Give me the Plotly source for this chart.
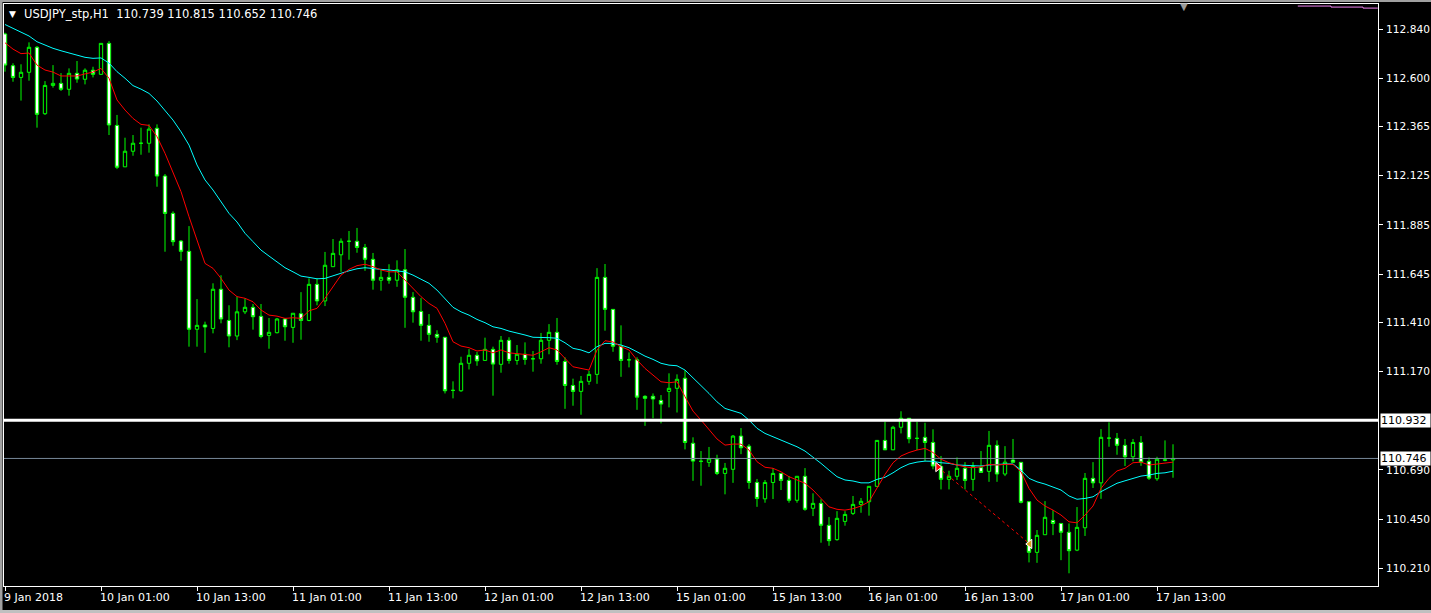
import plotly.graph_objects as go

# ---------------- data ----------------
bars = list(range(147))  # hourly bar index, 9 Jan 13:00 ... 17 Jan 15:00

opens = [
    112.816, 112.661, 112.604, 112.629, 112.751, 112.427, 112.565, 112.575, 112.546, 112.624,
    112.595, 112.639, 112.619, 112.770, 112.370, 112.168, 112.244, 112.283, 112.283, 112.356,
    112.123, 111.941, 111.806, 111.756, 111.376, 111.397, 111.380, 111.571, 111.419, 111.343,
    111.461, 111.483, 111.439, 111.346, 111.359, 111.426, 111.385, 111.452, 111.419, 111.595,
    111.514, 111.681, 111.739, 111.805, 111.805, 111.775, 111.717, 111.615, 111.629, 111.615,
    111.666, 111.532, 111.463, 111.395, 111.351, 111.337, 111.078, 111.076, 111.210, 111.249,
    111.224, 111.278, 111.205, 111.322, 111.224, 111.254, 111.232, 111.232, 111.322, 111.361,
    111.219, 111.102, 111.073, 111.122, 111.156, 111.629, 111.473, 111.293, 111.227, 111.227,
    111.049, 111.049, 111.029, 111.073, 111.088, 111.137, 110.820, 110.732, 110.727, 110.743,
    110.673, 110.693, 110.855, 110.806, 110.629, 110.549, 110.629, 110.673, 110.639, 110.542,
    110.659, 110.503, 110.527, 110.420, 110.350, 110.439, 110.478, 110.522, 110.535, 110.610,
    110.834, 110.788, 110.898, 110.942, 110.844, 110.849, 110.824, 110.707, 110.644, 110.659,
    110.698, 110.644, 110.701, 110.683, 110.810, 110.670, 110.738, 110.727, 110.535, 110.288,
    110.374, 110.444, 110.429, 110.386, 110.299, 110.408, 110.649, 110.627, 110.845, 110.844,
    110.810, 110.754, 110.824, 110.732, 110.647, 110.737, 110.739]

highs = [
    112.822, 112.673, 112.668, 112.775, 112.757, 112.586, 112.664, 112.625, 112.648, 112.684,
    112.648, 112.656, 112.770, 112.781, 112.421, 112.310, 112.323, 112.359, 112.375, 112.375,
    112.133, 111.951, 111.811, 111.879, 111.523, 111.413, 111.600, 111.639, 111.493, 111.535,
    111.527, 111.499, 111.499, 111.431, 111.431, 111.431, 111.454, 111.557, 111.624, 111.624,
    111.753, 111.816, 111.819, 111.855, 111.870, 111.792, 111.748, 111.668, 111.693, 111.712,
    111.767, 111.557, 111.528, 111.450, 111.371, 111.337, 111.122, 111.242, 111.279, 111.265,
    111.335, 111.291, 111.343, 111.337, 111.299, 111.312, 111.270, 111.358, 111.401, 111.431,
    111.239, 111.135, 111.148, 111.174, 111.674, 111.694, 111.473, 111.395, 111.263, 111.239,
    111.054, 111.063, 111.055, 111.161, 111.156, 111.176, 110.849, 110.782, 110.802, 110.764,
    110.724, 110.860, 110.894, 110.816, 110.646, 110.641, 110.699, 110.675, 110.660, 110.659,
    110.699, 110.576, 110.547, 110.460, 110.489, 110.489, 110.563, 110.553, 110.610, 110.834,
    110.925, 110.905, 110.976, 110.942, 110.925, 110.920, 110.888, 110.758, 110.686, 110.751,
    110.728, 110.728, 110.782, 110.880, 110.834, 110.806, 110.841, 110.727, 110.535, 110.397,
    110.538, 110.494, 110.429, 110.429, 110.509, 110.675, 110.728, 110.889, 110.922, 110.870,
    110.841, 110.841, 110.855, 110.751, 110.754, 110.834, 110.815]

lows = [
    112.632, 112.583, 112.491, 112.588, 112.359, 112.421, 112.554, 112.538, 112.515, 112.578,
    112.570, 112.604, 112.616, 112.323, 112.157, 112.168, 112.222, 112.227, 112.237, 112.071,
    111.754, 111.783, 111.710, 111.291, 111.291, 111.261, 111.356, 111.405, 111.288, 111.323,
    111.450, 111.374, 111.332, 111.281, 111.356, 111.320, 111.310, 111.325, 111.415, 111.493,
    111.489, 111.681, 111.656, 111.715, 111.749, 111.661, 111.569, 111.564, 111.598, 111.583,
    111.383, 111.408, 111.320, 111.315, 111.310, 111.063, 111.039, 111.071, 111.180, 111.198,
    111.224, 111.052, 111.164, 111.208, 111.203, 111.203, 111.169, 111.208, 111.254, 111.203,
    110.988, 111.003, 110.959, 111.105, 111.110, 111.369, 111.266, 111.144, 111.190, 110.983,
    110.905, 110.942, 110.917, 110.995, 110.970, 110.790, 110.637, 110.613, 110.705, 110.665,
    110.571, 110.627, 110.767, 110.598, 110.510, 110.530, 110.548, 110.592, 110.530, 110.530,
    110.491, 110.465, 110.335, 110.320, 110.345, 110.418, 110.470, 110.481, 110.467, 110.610,
    110.787, 110.787, 110.868, 110.820, 110.787, 110.733, 110.693, 110.595, 110.595, 110.641,
    110.595, 110.588, 110.678, 110.632, 110.632, 110.660, 110.727, 110.527, 110.239, 110.237,
    110.374, 110.372, 110.250, 110.186, 110.294, 110.368, 110.602, 110.549, 110.803, 110.764,
    110.709, 110.732, 110.710, 110.641, 110.637, 110.732, 110.652]

closes = [
    112.664, 112.604, 112.629, 112.751, 112.424, 112.565, 112.575, 112.546, 112.624, 112.596,
    112.639, 112.619, 112.770, 112.372, 112.166, 112.244, 112.283, 112.283, 112.352, 112.123,
    111.941, 111.803, 111.756, 111.376, 111.395, 111.387, 111.571, 111.426, 111.343, 111.461,
    111.483, 111.437, 111.341, 111.361, 111.426, 111.388, 111.454, 111.419, 111.595, 111.514,
    111.688, 111.746, 111.805, 111.805, 111.775, 111.717, 111.615, 111.629, 111.615, 111.666,
    111.532, 111.461, 111.395, 111.351, 111.337, 111.076, 111.078, 111.210, 111.249, 111.222,
    111.278, 111.206, 111.322, 111.224, 111.254, 111.229, 111.232, 111.322, 111.361, 111.219,
    111.102, 111.073, 111.122, 111.156, 111.629, 111.473, 111.293, 111.224, 111.227, 111.045,
    111.039, 111.036, 111.011, 111.088, 111.132, 110.824, 110.733, 110.732, 110.744, 110.673,
    110.698, 110.855, 110.798, 110.629, 110.551, 110.629, 110.673, 110.639, 110.542, 110.659,
    110.498, 110.527, 110.420, 110.345, 110.454, 110.473, 110.522, 110.537, 110.610, 110.834,
    110.788, 110.898, 110.942, 110.842, 110.844, 110.824, 110.709, 110.644, 110.659, 110.698,
    110.639, 110.707, 110.678, 110.810, 110.670, 110.728, 110.727, 110.532, 110.288, 110.371,
    110.459, 110.429, 110.386, 110.296, 110.410, 110.649, 110.627, 110.849, 110.845, 110.810,
    110.754, 110.824, 110.727, 110.650, 110.742, 110.739, 110.746]

ma_red = [
    112.773, 112.742, 112.720, 112.723, 112.664, 112.640, 112.630, 112.611, 112.611, 112.611,
    112.621, 112.630, 112.648, 112.600, 112.494, 112.445, 112.404, 112.375, 112.370, 112.315,
    112.234, 112.136, 112.047, 111.925, 111.811, 111.697, 111.673, 111.624, 111.567, 111.535,
    111.527, 111.510, 111.470, 111.445, 111.440, 111.429, 111.432, 111.429, 111.466, 111.478,
    111.527, 111.583, 111.640, 111.668, 111.686, 111.693, 111.681, 111.665, 111.656, 111.656,
    111.616, 111.575, 111.535, 111.502, 111.478, 111.405, 111.315, 111.294, 111.286, 111.270,
    111.275, 111.261, 111.275, 111.261, 111.258, 111.255, 111.249, 111.266, 111.286, 111.275,
    111.234, 111.193, 111.185, 111.177, 111.275, 111.320, 111.314, 111.291, 111.275, 111.226,
    111.185, 111.153, 111.120, 111.115, 111.120, 111.047, 110.977, 110.933, 110.889, 110.841,
    110.811, 110.816, 110.816, 110.787, 110.730, 110.703, 110.698, 110.681, 110.657, 110.641,
    110.625, 110.592, 110.551, 110.510, 110.498, 110.494, 110.501, 110.514, 110.535, 110.600,
    110.668, 110.725, 110.758, 110.775, 110.787, 110.795, 110.775, 110.742, 110.725, 110.714,
    110.705, 110.701, 110.705, 110.717, 110.714, 110.717, 110.717, 110.681, 110.600, 110.543,
    110.514, 110.494, 110.470, 110.437, 110.432, 110.470, 110.514, 110.600, 110.649, 110.685,
    110.698, 110.725, 110.728, 110.714, 110.719, 110.722, 110.728]

ma_cyan = [
    112.862, 112.843, 112.827, 112.806, 112.778, 112.762, 112.746, 112.734, 112.724, 112.713,
    112.702, 112.697, 112.699, 112.674, 112.632, 112.600, 112.564, 112.547, 112.526, 112.489,
    112.445, 112.396, 112.339, 112.274, 112.177, 112.104, 112.055, 111.998, 111.941, 111.899,
    111.844, 111.803, 111.762, 111.733, 111.705, 111.676, 111.656, 111.635, 111.629, 111.622,
    111.624, 111.635, 111.649, 111.661, 111.671, 111.676, 111.671, 111.668, 111.665, 111.661,
    111.656, 111.640, 111.619, 111.600, 111.567, 111.527, 111.483, 111.461, 111.445, 111.424,
    111.408, 111.388, 111.380, 111.367, 111.359, 111.348, 111.337, 111.337, 111.335, 111.332,
    111.310, 111.283, 111.275, 111.261, 111.291, 111.307, 111.307, 111.299, 111.286, 111.266,
    111.245, 111.229, 111.210, 111.201, 111.198, 111.177, 111.137, 111.101, 111.063, 111.022,
    110.990, 110.979, 110.966, 110.933, 110.893, 110.868, 110.852, 110.839, 110.820, 110.803,
    110.782, 110.754, 110.722, 110.689, 110.657, 110.641, 110.636, 110.627, 110.627, 110.644,
    110.654, 110.676, 110.701, 110.719, 110.728, 110.733, 110.732, 110.725, 110.722, 110.714,
    110.712, 110.712, 110.709, 110.714, 110.717, 110.719, 110.719, 110.689, 110.649, 110.632,
    110.621, 110.608, 110.592, 110.563, 110.547, 110.551, 110.559, 110.584, 110.605, 110.625,
    110.637, 110.649, 110.660, 110.665, 110.673, 110.676, 110.684]

# magenta indicator fragment visible at the top right
ma_magenta_x = [161.6, 165.75, 169.75, 171.6]
ma_magenta_y = [112.952, 112.947, 112.942, 112.942]

# closed trade (dashed history line)
trade_x = [116.6, 128.1]
trade_y = [110.704, 110.329]

resistance_level = 110.932
bid_price = 110.746

x_tick_vals = [0, 12, 24, 36, 48, 60, 72, 84, 96, 108, 120, 132, 144]
x_tick_labels = ["9 Jan 2018", "10 Jan 01:00", "10 Jan 13:00", "11 Jan 01:00", "11 Jan 13:00",
                 "12 Jan 01:00", "12 Jan 13:00", "15 Jan 01:00", "15 Jan 13:00", "16 Jan 01:00",
                 "16 Jan 13:00", "17 Jan 01:00", "17 Jan 13:00"]

y_tick_vals = [112.840, 112.600, 112.365, 112.125, 111.885, 111.645, 111.410, 111.170,
               110.690, 110.450, 110.210]
y_tick_text = ["112.840", "112.600", "112.365", "112.125", "111.885", "111.645", "111.410",
               "111.170", "110.690", "110.450", "110.210"]

header = "USDJPY_stp,H1  110.739 110.815 110.652 110.746"

# ---------------- styling ----------------
FONT = "DejaVu Sans"
GREEN = "#00FF00"
W, H = 1431, 613
ML, MR, MT, MB = 4, 53, 4, 27
PW, PH = W - ML - MR, H - MT - MB


def px_x(px):
    return (px - ML) / PW


def px_y(py):
    return (H - MB - py) / PH


fig = go.Figure()

fig.add_trace(go.Candlestick(
    x=bars, open=opens, high=highs, low=lows, close=closes,
    increasing=dict(line=dict(color=GREEN, width=1), fillcolor="#000000"),
    decreasing=dict(line=dict(color=GREEN, width=1), fillcolor="#FFFFFF"),
    whiskerwidth=0, hoverinfo="skip", showlegend=False,
))

fig.add_trace(go.Scatter(x=bars, y=ma_cyan, mode="lines",
                         line=dict(color="#00FFFF", width=1), hoverinfo="skip", showlegend=False))
fig.add_trace(go.Scatter(x=bars, y=ma_red, mode="lines",
                         line=dict(color="#FF0000", width=1), hoverinfo="skip", showlegend=False))
fig.add_trace(go.Scatter(x=ma_magenta_x, y=ma_magenta_y, mode="lines", line_shape="hv",
                         line=dict(color="#EE82EE", width=1), hoverinfo="skip", showlegend=False))

fig.add_trace(go.Scatter(x=trade_x, y=trade_y, mode="lines",
                         line=dict(color="#FF0000", width=1, dash="3px,3px"),
                         hoverinfo="skip", showlegend=False))
fig.add_trace(go.Scatter(x=[trade_x[0]], y=[trade_y[0]], mode="markers",
                         marker=dict(symbol="triangle-right", size=8, color="#FF0000",
                                     line=dict(color="#FFFFFF", width=1)),
                         hoverinfo="skip", showlegend=False))
fig.add_trace(go.Scatter(x=[trade_x[1]], y=[trade_y[1]], mode="markers",
                         marker=dict(symbol="triangle-left", size=8, color="#DAA520",
                                     line=dict(color="#FFFFFF", width=1)),
                         hoverinfo="skip", showlegend=False))

shapes = [
    dict(type="line", xref="paper", yref="y", x0=0, x1=1, y0=resistance_level, y1=resistance_level,
         line=dict(color="#FFFFFF", width=3), layer="above"),
    dict(type="line", xref="paper", yref="y", x0=0, x1=1, y0=bid_price, y1=bid_price,
         line=dict(color="#778899", width=1), layer="above"),
    # window frame edges
    dict(type="rect", xref="paper", yref="paper", x0=px_x(0), x1=px_x(2.5), y0=px_y(H), y1=px_y(0),
         fillcolor="#A0A0A0", line=dict(width=0), layer="above"),
    dict(type="rect", xref="paper", yref="paper", x0=px_x(0), x1=px_x(W), y0=px_y(2), y1=px_y(0),
         fillcolor="#A0A0A0", line=dict(width=0), layer="above"),
    dict(type="rect", xref="paper", yref="paper", x0=px_x(0), x1=px_x(W), y0=px_y(H), y1=px_y(610),
         fillcolor="#C0C0C0", line=dict(width=0), layer="above"),
]

annotations = []
for v, t in zip(x_tick_vals, x_tick_labels):
    annotations.append(dict(x=v, y=0, xref="x", yref="paper", text=t, showarrow=False,
                            xanchor="left", yanchor="top", xshift=-3, yshift=-3,
                            font=dict(family=FONT, size=11, color="#FFFFFF")))

annotations.append(dict(x=px_x(22), y=px_y(14), xref="paper", yref="paper", text=header,
                        showarrow=False, xanchor="left", yanchor="middle",
                        font=dict(family=FONT, size=11.5, color="#FFFFFF")))
annotations.append(dict(x=px_x(12.5), y=px_y(13.5), xref="paper", yref="paper", text="▼",
                        showarrow=False, xanchor="center", yanchor="middle",
                        font=dict(family=FONT, size=9, color="#FFFFFF")))
annotations.append(dict(x=px_x(1184), y=px_y(7), xref="paper", yref="paper", text="▼",
                        showarrow=False, xanchor="center", yanchor="middle",
                        font=dict(family=FONT, size=10, color="#9A9A9A")))

for lvl in (resistance_level, bid_price):
    annotations.append(dict(x=1, y=lvl, xref="paper", yref="y", text=f"{lvl:.3f} ",
                            showarrow=False, xanchor="left", yanchor="middle", xshift=2,
                            bgcolor="#FFFFFF", borderpad=0,
                            font=dict(family=FONT, size=11, color="#000000")))

fig.update_layout(
    width=W, height=H,
    margin=dict(l=ML, r=MR, t=MT, b=MB, pad=0, autoexpand=False),
    paper_bgcolor="#000000", plot_bgcolor="#000000",
    showlegend=False, hovermode=False,
    boxgap=0.4,
    shapes=shapes, annotations=annotations,
    xaxis=dict(range=[-0.125, 171.625], showgrid=False, zeroline=False, automargin=False,
               showline=True, linecolor="#FFFFFF", linewidth=1, mirror=True,
               ticks="outside", ticklen=4, tickcolor="#FFFFFF", tickwidth=1,
               tickvals=x_tick_vals, showticklabels=False,
               rangeslider=dict(visible=False), fixedrange=True),
    yaxis=dict(range=[110.124, 112.962], side="right", showgrid=False, zeroline=False,
               automargin=False,
               showline=True, linecolor="#FFFFFF", linewidth=1, mirror=True,
               ticks="outside", ticklen=4, tickcolor="#FFFFFF", tickwidth=1,
               ticklabelstandoff=1,
               tickvals=y_tick_vals, ticktext=y_tick_text,
               tickfont=dict(family=FONT, size=10.6, color="#FFFFFF"), fixedrange=True),
)

fig.write_html(
    "out.html",
    config={"displayModeBar": False},
    post_script="document.body.style.margin='0px';document.body.style.background='#000000';",
)
